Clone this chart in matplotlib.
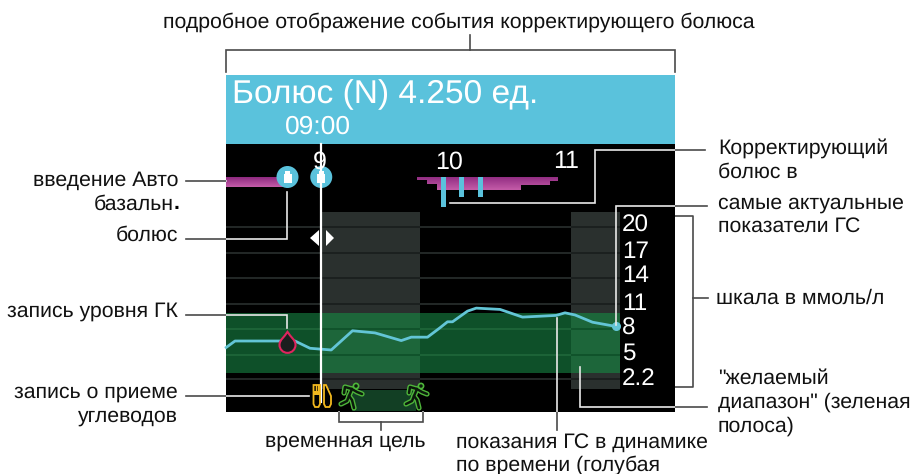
import matplotlib
matplotlib.use("Agg")
import matplotlib.pyplot as plt
import numpy as np
from matplotlib.colors import LinearSegmentedColormap
from matplotlib.patches import Rectangle, Circle, Polygon, PathPatch
from matplotlib.path import Path

plt.rcParams['font.family'] = ['Liberation Sans', 'DejaVu Sans']
plt.rcParams['text.hinting'] = 'no_hinting'

W, H = 911, 474
SCR_L, SCR_R, SCR_T, SCR_B = 226, 675, 144, 412

# данные
glucose_time = [8.25, 8.32, 8.68, 8.80, 8.92, 9.09, 9.26, 9.44, 9.65, 9.73, 9.86, 9.96,
                10.02, 10.06, 10.18, 10.25, 10.44, 10.62, 10.89, 10.96, 11.04, 11.18, 11.37]
glucose_value = [5.9, 6.65, 6.65, 6.65, 5.8, 5.6, 7.85, 7.6, 6.7, 7.1, 7.1, 8.2,
                 8.9, 8.9, 10.15, 10.5, 10.35, 9.45, 9.65, 9.95, 9.7, 8.85, 8.35]
scale_ticks = [20, 17, 14, 11, 8, 5, 2.2]
grid_values = [20, 17, 14, 11, 8, 5, 2.2]
hour_ticks = [9, 10, 11]
target_range = (2.9, 9.95)
temp_target = [(9.02, 9.8), (11.01, 11.4)]
basal_edges = [8.25, 8.72]
basal_rates = [10]
auto_edges = [9.78, 9.86, 9.94, 10.03, 10.61, 10.84, 10.90]
auto_rates = [3, 7.5, 13.3, 13.3, 8, 4]
bolus_time = [9.988, 10.132, 10.284]
bolus_size = [30, 20, 20]
event_bolus = [8.74, 9.01]
cursor_time = 9.01
exercise_time = [9.24, 9.76]
meter_time = 8.74
meter_value = 6.2


def hour_px(t):
    return 320 + (t - 9) * 125


def gl_py(v):
    return 227 + (20 - v) * 8.54


fig = plt.figure(figsize=(W / 100, H / 100), dpi=100, facecolor='white')
ov = fig.add_axes([0, 0, 1, 1])
ov.set_xlim(0, W)
ov.set_ylim(H, 0)
ov.axis('off')

BLUE = '#5AC2DC'
ov.add_patch(Rectangle((SCR_L, SCR_T), SCR_R - SCR_L, SCR_B - SCR_T, fc='black', ec='none', zorder=1))
ov.add_patch(Rectangle((SCR_L, 75), SCR_R - SCR_L, SCR_T - 75, fc=BLUE, ec='none', zorder=1))
ov.text(232, 94.5, 'Болюс (N) 4.250 ед.', color='white', fontsize=24.1, va='center', ha='left', zorder=5)
ov.text(318, 127, '09:00', color='white', fontsize=19, va='center', ha='center', zorder=5)

# серые зоны
for t0, t1 in temp_target:
    x0, x1 = hour_px(t0), hour_px(t1)
    ov.add_patch(Rectangle((x0, 212), x1 - x0, 389 - 212, fc='#2A302E', ec='none', zorder=2))

# полоса целевого диапазона
band_top, band_bot = gl_py(target_range[1]), gl_py(target_range[0])
ov.add_patch(Rectangle((SCR_L, band_top), 620 - SCR_L, band_bot - band_top, fc='#0E5029', ec='none', zorder=2.1))
for t0, t1 in temp_target:
    x0, x1 = hour_px(t0), hour_px(t1)
    ov.add_patch(Rectangle((x0, band_top), x1 - x0, band_bot - band_top, fc='#1D663A', ec='none', zorder=2.2))

# сетка: светлее на темном, темнее на сером
for v in grid_values:
    y = gl_py(v)
    inside = band_top < y < band_bot
    ov.plot([SCR_L, 620], [y, y], color='#1F673B' if inside else '#2A302E', lw=1.2, zorder=2.3, solid_capstyle='butt')
    for t0, t1 in temp_target:
        ov.plot([hour_px(t0), hour_px(t1)], [y, y], color='#0E5029' if inside else '#191D1C',
                lw=1.2, zorder=2.4, solid_capstyle='butt')

# нижняя зона временной цели
ov.add_patch(Rectangle((352, 390), 64, SCR_B - 391, fc='#123F24', ec='none', zorder=2.5))

# линия ГС
ov.plot([hour_px(t) for t in glucose_time], [gl_py(v) for v in glucose_value], color='#63C5D6', lw=2.0,
        zorder=3, solid_joinstyle='round')
ov.plot(hour_px(glucose_time[-1]), gl_py(glucose_value[-1]), 'o', color='#63C5D6', ms=5.5, zorder=3.1)

# базальный профиль с градиентом
cmap = LinearSegmentedColormap.from_list('basal', ['#8E2A80', '#C45CA8'])
grad = np.linspace(0, 1, 32).reshape(-1, 1)


def draw_basal(edges, rates):
    xs, ys = [], []
    for i, r in enumerate(rates):
        xs += [hour_px(edges[i]), hour_px(edges[i + 1])]
        ys += [176.7 + r, 176.7 + r]
    pts = [(xs[0], 176.7)] + list(zip(xs, ys)) + [(xs[-1], 176.7)]
    poly = Polygon(pts, closed=True, fc='none', ec='none', transform=ov.transData)
    ov.add_patch(poly)
    im = ov.imshow(grad, cmap=cmap, extent=(xs[0], xs[-1], 176.7 + max(rates), 176.7), aspect='auto', zorder=2.6)
    im.set_clip_path(poly)


draw_basal(basal_edges, basal_rates)
draw_basal(auto_edges, auto_rates)
ov.set_xlim(0, W)
ov.set_ylim(H, 0)

for t, s in zip(bolus_time, bolus_size):
    ov.add_patch(Rectangle((hour_px(t) - 2.5, 176.7), 5, s, fc=BLUE, ec='none', zorder=2.8))

# события болюса
for t in event_bolus:
    cx = hour_px(t)
    ov.add_patch(Circle((cx, 177), 11, fc=BLUE, ec='none', zorder=3))
    ov.add_patch(Polygon([(cx - 4, 183), (cx - 4, 174), (cx - 2.5, 174), (cx - 2.5, 171), (cx + 2.5, 171),
                          (cx + 2.5, 174), (cx + 4, 174), (cx + 4, 183)], fc='white', ec='none', zorder=3.1))

# курсор
cur = hour_px(cursor_time)
ov.plot([cur, cur], [SCR_T, 402], color='white', lw=1.6, zorder=4)
ov.add_patch(Polygon([(319, 230), (319, 246), (310, 238)], fc='white', ec='none', zorder=4))
ov.add_patch(Polygon([(326, 230), (326, 246), (334, 238)], fc='white', ec='none', zorder=4))

# капля
dx, dy = hour_px(meter_time), gl_py(meter_value)
drop = Path([(dx, dy - 13), (dx + 3, dy - 8), (dx + 8, dy - 5), (dx + 8, dy), (dx + 8, dy + 4.5), (dx + 4.5, dy + 8),
             (dx, dy + 8), (dx - 4.5, dy + 8), (dx - 8, dy + 4.5), (dx - 8, dy), (dx - 8, dy - 5), (dx - 3, dy - 8),
             (dx, dy - 13), (dx, dy - 13)],
            [Path.MOVETO] + [Path.CURVE4] * 12 + [Path.CLOSEPOLY])
ov.add_patch(PathPatch(drop, fc='#1A1E1E', ec='#E0245E', lw=1.5, zorder=3.5))

# углеводы: вилка и нож
YEL = '#F2B81E'
ov.add_patch(Polygon([(313.5, 385), (320, 385), (320, 404), (318.5, 407), (315, 407), (313.5, 404)], closed=True,
                     fc='black', ec=YEL, lw=1.3, zorder=4.5))
ov.add_patch(Rectangle((313.5, 391), 6.5, 4, fc=YEL, ec='none', zorder=4.6))
for x in [315.7, 317.9]:
    ov.plot([x, x], [385, 392], color=YEL, lw=1.0, zorder=4.6)
ov.add_patch(Polygon([(324, 385), (326, 385), (331, 396), (331, 404), (329.5, 407), (325.5, 407), (324, 404)], closed=True,
                     fc='black', ec=YEL, lw=1.3, zorder=4.5))

# бегун
for t in exercise_time:
    rx = hour_px(t)
    segs = [[(rx + 2, 389), (rx - 1, 396)],
            [(rx + 2, 389), (rx + 7, 392), (rx + 12, 394)],
            [(rx + 2, 389), (rx - 5, 387), (rx - 6, 393)],
            [(rx - 1, 396), (rx + 2, 400), (rx + 4, 408)],
            [(rx - 1, 396), (rx - 3, 401), (rx - 9, 404)]]
    for seg in segs:
        sx, sy = zip(*seg)
        ov.plot(sx, sy, color='#4EB53A', lw=3.8, zorder=4.5, solid_capstyle='round', solid_joinstyle='round')
    for seg in segs:
        sx, sy = zip(*seg)
        ov.plot(sx, sy, color='#0B1A0B', lw=1.8, zorder=4.6, solid_capstyle='round', solid_joinstyle='round')
    ov.add_patch(Circle((rx + 6, 386), 2.6, fc='#0B1A0B', ec='#4EB53A', lw=1.2, zorder=4.6))

# подписи шкал
for h, x in zip(hour_ticks, [320, 449, 566]):
    ov.text(x, 162, str(h), color='white', fontsize=18, ha='center', va='center', zorder=3.6)
for v, y in zip(scale_ticks, [226, 252, 276, 304, 329, 354, 379]):
    ov.text(622, y, str(v), color='white', fontsize=17.5, ha='left', va='center', zorder=5)


# выноски: белые на экране, темные вне его
def leader(xs, ys):
    ov.plot(xs, ys, color='#4A4A4A', lw=1.2, zorder=0.5, solid_joinstyle='miter')
    line, = ov.plot(xs, ys, color='#E8E8E8', lw=1.2, zorder=4.8, solid_joinstyle='miter')
    line.set_clip_path(Rectangle((SCR_L, SCR_T), SCR_R - SCR_L, SCR_B - SCR_T, transform=ov.transData))


leader([226, 226, 675, 675], [72, 50, 50, 72])
leader([470, 470], [50, 35])
leader([186, 226], [181, 181])
leader([186, 287, 287], [238.5, 238.5, 192])
leader([186, 287, 287], [315, 315, 328])
leader([186, 309], [396, 396])
leader([705, 595, 595, 450], [150, 150, 203, 203])
leader([707, 616, 616], [206, 206, 325])
ov.plot([675, 693, 693, 675], [216, 216, 386.5, 386.5], color='#4A4A4A', lw=1.2, zorder=0.5)
leader([693, 708], [298, 298])
leader([707, 580, 580], [406.5, 406.5, 367])
leader([339, 339, 423, 423], [412, 422, 422, 412])
leader([381, 381], [422, 430])
leader([557, 557], [318, 430])

# текст
FS = 15.3
INK = '#111111'
ov.text(459, 22, 'подробное отображение события корректирующего болюса', fontsize=FS, ha='center', va='center', color=INK)
for x, y, s in [(178, 180, 'введение Авто'), (174, 204, 'базальн'), (178, 235, 'болюс'), (178, 311, 'запись уровня ГК'),
                (178, 392, 'запись о приеме'), (178, 416, 'углеводов')]:
    ov.text(x, y, s, fontsize=FS, ha='right', va='center', color=INK)
ov.text(174, 204, '.', fontsize=FS, ha='left', va='center', color='black', fontweight='bold')
for x, y, s in [(718, 148, 'Корректирующий'), (718, 172, 'болюс в'), (718, 203, 'самые актуальные'),
                (718, 226, 'показатели ГС'), (716, 298, 'шкала в ммоль/л'), (718, 378, '"желаемый'),
                (718, 402, 'диапазон" (зеленая'), (718, 426, 'полоса)'),
                (456, 442, 'показания ГС в динамике'), (456, 465, 'по времени (голубая')]:
    ov.text(x, y, s, fontsize=FS, ha='left', va='center', color=INK)
ov.text(345, 441, 'временная цель', fontsize=FS, ha='center', va='center', color=INK)

fig.savefig('out.png', dpi=100, facecolor='white')
